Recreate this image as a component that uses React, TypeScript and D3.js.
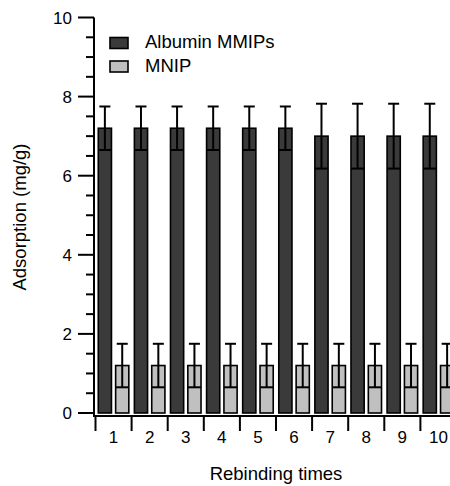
import React from 'react';
import * as d3 from 'd3';

const categories = ['1', '2', '3', '4', '5', '6', '7', '8', '9', '10'];
const seriesNames = ['Albumin MMIPs', 'MNIP'];
const mmipValues = [7.2, 7.2, 7.2, 7.2, 7.2, 7.2, 7.0, 7.0, 7.0, 7.0];
const mmipErrors = [0.55, 0.55, 0.55, 0.55, 0.55, 0.55, 0.82, 0.82, 0.82, 0.82];
const mnipValues = [1.2, 1.2, 1.2, 1.2, 1.2, 1.2, 1.2, 1.2, 1.2, 1.2];
const mnipErrors = [0.55, 0.55, 0.55, 0.55, 0.55, 0.55, 0.55, 0.55, 0.55, 0.55];
const yTicks = [0, 2, 4, 6, 8, 10];

const fills = ['#3a3a3a', '#c0c0c0'];
const font = 'Arial, "Liberation Sans", Helvetica, sans-serif';

const App = () => {
  const width = 450;
  const height = 486;

  const y = d3.scaleLinear().domain([0, 10]).range([413, 17.5]);
  const x0 = d3.scaleBand().domain(categories).range([95.5, 95.5 + 36.1 * categories.length]).padding(0);
  const x1 = d3
    .scaleBand()
    .domain(seriesNames)
    .range([0, x0.step()])
    .paddingInner(0.24)
    .paddingOuter(0.16);

  const minorTicks = d3.range(0, 10.01, 0.5).filter(v => !yTicks.includes(v));
  const axisY = 416;

  const series = [
    { name: seriesNames[0], values: mmipValues, errors: mmipErrors, fill: fills[0] },
    { name: seriesNames[1], values: mnipValues, errors: mnipErrors, fill: fills[1] },
  ];

  return (
    <svg width={width} height={height} style={{ position: 'absolute', left: 0, top: 0 }} fontFamily={font}>
      <rect width={width} height={height} fill="white" />

      {/* bars */}
      {series.map(s => (
        <g key={s.name}>
          {categories.map((c, i) => {
            const bx = x0(c)! + x1(s.name)!;
            const bw = x1.bandwidth();
            const cx = bx + bw / 2;
            const top = y(s.values[i]);
            const hi = y(s.values[i] + s.errors[i]);
            const lo = y(s.values[i] - s.errors[i]);
            return (
              <g key={c}>
                <rect x={bx} y={top} width={bw} height={y(0) - top} fill={s.fill} stroke="#000" strokeWidth={1.6} />
                <line x1={cx} x2={cx} y1={lo} y2={hi} stroke="#000" strokeWidth={2} />
                <line x1={cx - 5.5} x2={cx + 5.5} y1={hi} y2={hi} stroke="#000" strokeWidth={2} />
                <line x1={bx} x2={bx + bw} y1={lo} y2={lo} stroke="#000" strokeWidth={2} />
              </g>
            );
          })}
        </g>
      ))}

      {/* y axis */}
      <line x1={94} x2={94} y1={y(10)} y2={axisY} stroke="#000" strokeWidth={2} />
      {yTicks.map(t => (
        <g key={t}>
          <line x1={78} x2={94} y1={y(t)} y2={y(t)} stroke="#000" strokeWidth={2} />
          <text x={72} y={y(t)} dy="0.36em" textAnchor="end" fontSize={17}>
            {t}
          </text>
        </g>
      ))}
      {minorTicks.map(t => (
        <line key={t} x1={86} x2={94} y1={y(t)} y2={y(t)} stroke="#000" strokeWidth={2} />
      ))}

      {/* x axis */}
      <line x1={93} x2={width + 10} y1={axisY} y2={axisY} stroke="#000" strokeWidth={2} />
      {categories.map(c => (
        <g key={c}>
          <line x1={x0(c)!} x2={x0(c)!} y1={axisY} y2={axisY + 15} stroke="#000" strokeWidth={2} />
          <text x={x0(c)! + x0.bandwidth() / 2} y={443} textAnchor="middle" fontSize={17}>
            {c}
          </text>
        </g>
      ))}

      {/* axis titles */}
      <text x={276} y={480} textAnchor="middle" fontSize={18.5}>
        Rebinding times
      </text>
      <text transform="translate(26,217) rotate(-90)" textAnchor="middle" fontSize={18.5}>
        Adsorption (mg/g)
      </text>

      {/* legend */}
      {series.map((s, i) => (
        <g key={s.name} transform={`translate(110,${37.5 + i * 23.5})`}>
          <rect x={0} y={0} width={18} height={11} fill={s.fill} stroke="#000" strokeWidth={1.6} />
          <text x={35} y={10.5} fontSize={18.5}>
            {s.name}
          </text>
        </g>
      ))}
    </svg>
  );
};

export default App;
